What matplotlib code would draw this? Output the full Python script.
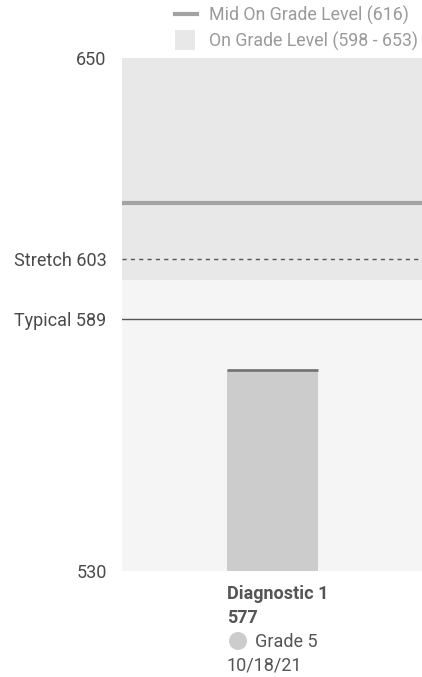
import matplotlib.pyplot as plt
from matplotlib.patches import Ellipse, Rectangle
import numpy as np

plt.rcParams['font.family'] = ['Roboto', 'DejaVu Sans']

y_min, y_max = 530, 650
on_grade_low, on_grade_high = 598, 653
mid_on_grade = 616
stretch = 603
typical = 589
score = 577
bar_label = "Diagnostic 1"
grade = "Grade 5"
test_date = "10/18/21"

fig = plt.figure(figsize=(4.22, 6.77), dpi=100)
ax = fig.add_axes([122/422, 106/677, 300/422, 513/677])
ax.set_xlim(0, 1)
ax.set_ylim(y_min, y_max)
ax.set_facecolor('#f5f5f5')

# on grade level band
ax.axhspan(on_grade_low, on_grade_high, color='#e8e8e8', lw=0, zorder=0)
ax.axhline(mid_on_grade, color='#a3a3a3', lw=3, zorder=2)
ax.axhline(stretch, color='#555555', lw=1, ls=(0, (3, 3)), zorder=2)
ax.axhline(typical, color='#555555', lw=1, zorder=2)

# score bar
ax.bar(0.5, score - y_min, bottom=y_min, width=91/300, color='#cccccc', zorder=3)
ax.plot([0.5 - 91/600, 0.5 + 91/600], [score, score], color='#757575', lw=2,
        solid_capstyle='butt', zorder=4)

for s in ax.spines.values():
    s.set_visible(False)
ax.set_xticks([])
ax.set_yticks([y_min, y_max, stretch, typical])
ax.set_yticklabels([str(y_min), str(y_max), f"Stretch {stretch}", f"Typical {typical}"])
ax.tick_params(axis='y', length=0, pad=11, labelsize=13, labelcolor='#4a4a4a')

# legend at top right
fig.lines.append(plt.Line2D([175/422, 197/422], [1 - 14/677, 1 - 14/677],
                            transform=fig.transFigure, color='#a3a3a3', lw=3))
fig.patches.append(Rectangle((175/422, 1 - 50/677), 20/422, 20/677,
                             transform=fig.transFigure, color='#e8e8e8', lw=0))
fig.text(209/422, 1 - 15/677, f"Mid On Grade Level ({mid_on_grade})",
         color='#9a9a9a', fontsize=12.8, va='center')
fig.text(209/422, 1 - 41/677, f"On Grade Level ({on_grade_low} - {on_grade_high})",
         color='#9a9a9a', fontsize=12.8, va='center')

# labels below the bar
x0 = 227/422
fig.text(x0, 1 - 594/677, bar_label, fontsize=13, fontweight='bold', color='#555555', va='center')
fig.text(x0, 1 - 618/677, str(score), fontsize=13, fontweight='bold', color='#555555', va='center')
fig.patches.append(Ellipse((238/422, 1 - 641/677), 18/422, 18/677, transform=fig.transFigure,
                           color='#cccccc', lw=0))
fig.text(255/422, 1 - 642/677, grade, fontsize=13, color='#555555', va='center')
fig.text(x0, 1 - 666/677, test_date, fontsize=13, color='#555555', va='center')

fig.savefig('out.png', dpi=100)
